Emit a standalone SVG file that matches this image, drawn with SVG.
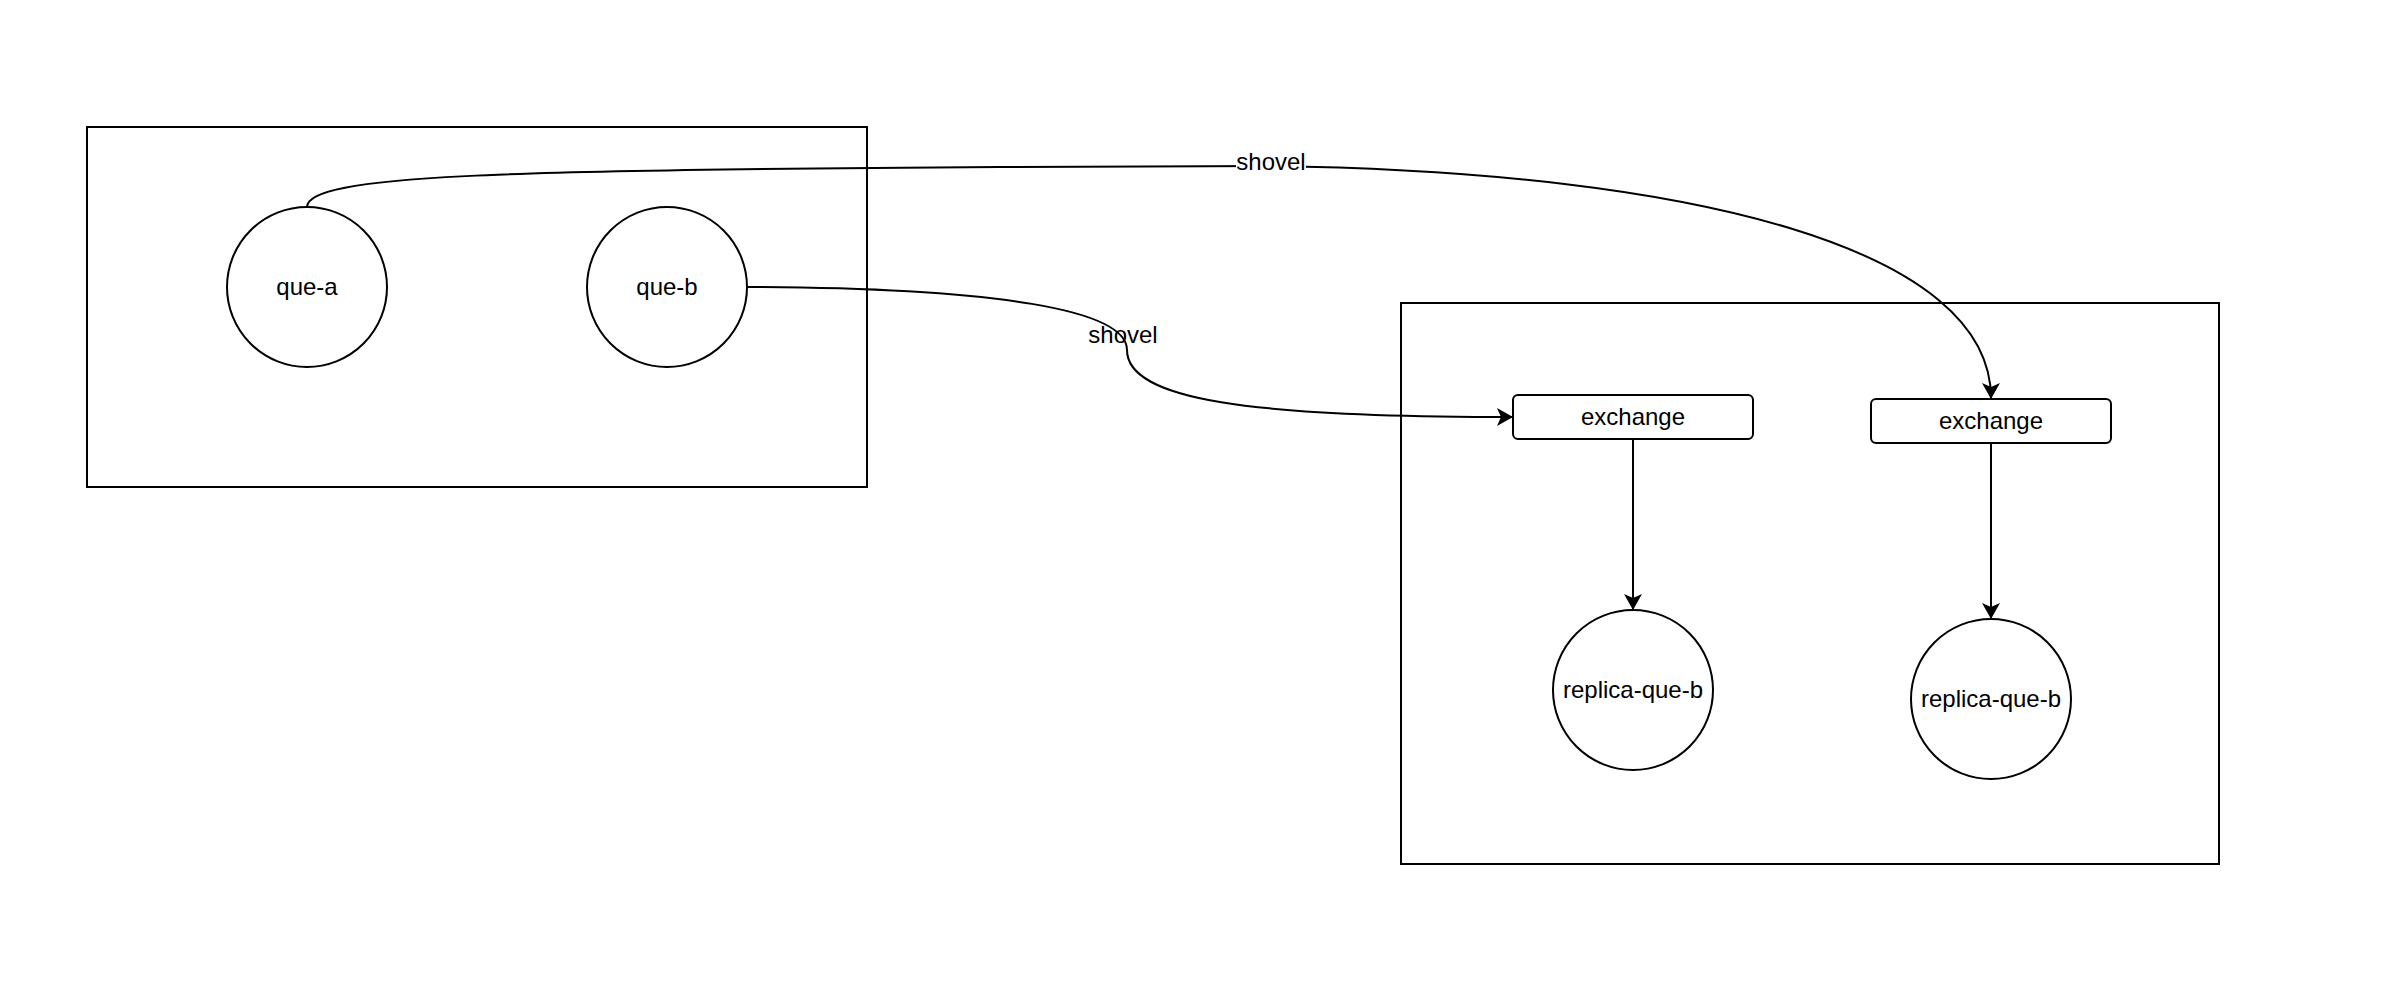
<svg xmlns="http://www.w3.org/2000/svg" width="2394" height="986" viewBox="0 0 2394 986">
<style>
.box{fill:none;stroke:#000;stroke-width:2}
.node{fill:#fff;stroke:#000;stroke-width:2}
.edge{fill:none;stroke:#000;stroke-width:2}
.t{font-family:"Liberation Sans",Arial,sans-serif;font-size:24px;fill:#000;text-anchor:middle}
</style>
<defs>
<marker id="arr" viewBox="0 0 16 18" refX="15" refY="9" markerWidth="16" markerHeight="18" orient="auto" markerUnits="userSpaceOnUse">
<path d="M0,0 L16,9 L0,18 L4,9 Z" fill="#000"/>
</marker>
</defs>
<rect width="2394" height="986" fill="#fff"/>
<g id="cluster-left"><rect class="box" x="87" y="127" width="780" height="360"/></g>
<g id="cluster-right"><rect class="box" x="1401" y="303" width="818" height="561"/></g>
<g id="connectors">
<path class="edge" marker-end="url(#arr)" d="M307,207 C307,175 500,170 1000,167 L1271,166 C1700,172 1991,250 1991,398"/>
<path class="edge" marker-end="url(#arr)" d="M747,287 C1000,288 1127,310 1127,350 C1127,400 1250,417 1512,417"/>
<path class="edge" marker-end="url(#arr)" d="M1633,439 L1633,609"/>
<path class="edge" marker-end="url(#arr)" d="M1991,443 L1991,618"/>
<rect x="1236" y="151" width="70" height="24" fill="#fff"/>
<text class="t" x="1271" y="170">shovel</text>
<text class="t" x="1123" y="343">shovel</text>
</g>
<g id="que-a"><circle class="node" cx="307" cy="287" r="80"/><text class="t" x="307" y="295">que-a</text></g>
<g id="que-b"><circle class="node" cx="667" cy="287" r="80"/><text class="t" x="667" y="295">que-b</text></g>
<g id="exchange-1"><rect class="node" x="1513" y="395" width="240" height="44" rx="5"/><text class="t" x="1633" y="425">exchange</text></g>
<g id="exchange-2"><rect class="node" x="1871" y="399" width="240" height="44" rx="5"/><text class="t" x="1991" y="429">exchange</text></g>
<g id="replica-1"><circle class="node" cx="1633" cy="690" r="80"/><text class="t" x="1633" y="698">replica-que-b</text></g>
<g id="replica-2"><circle class="node" cx="1991" cy="699" r="80"/><text class="t" x="1991" y="707">replica-que-b</text></g>
</svg>
